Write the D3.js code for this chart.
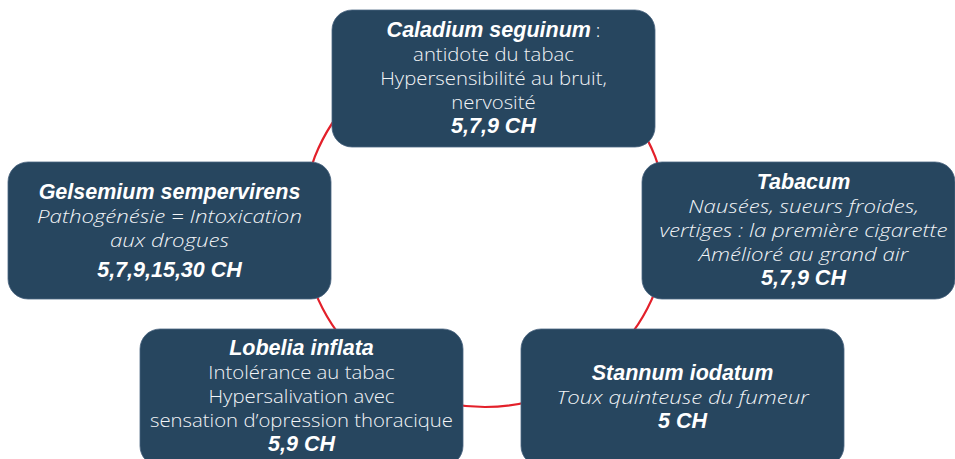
<!DOCTYPE html>
<html>
<head>
<meta charset="utf-8">
<script src="https://cdn.jsdelivr.net/npm/d3@7"></script>
<style>
  body { margin: 0; background: #fff; overflow: hidden; }
  .title { font-family: "Liberation Sans", Arial, sans-serif; font-weight: bold; font-style: italic; font-size: 21.5px; }
  .body  { font-family: "Open Sans", Roboto, sans-serif; font-weight: 300; font-size: 19px; }
</style>
</head>
<body>
<svg></svg>
<script>
// remedies around the circle
var remedies = ["Caladium seguinum", "Tabacum", "Stannum iodatum", "Lobelia inflata", "Gelsemium sempervirens"];
var suffix = [" :", "", "", "", ""];
var symptoms = [
  ["antidote du tabac", "Hypersensibilité au bruit,", "nervosité"],
  ["Nausées, sueurs froides,", "vertiges : la première cigarette", "Amélioré au grand air"],
  ["Toux quinteuse du fumeur"],
  ["Intolérance au tabac", "Hypersalivation avec", "sensation d\u2019opression thoracique"],
  ["Pathogénésie = Intoxication", "aux drogues"]
];
var italicBody = [false, true, true, false, true];
var dilutions = ["5,7,9 CH", "5,7,9 CH", "5 CH", "5,9 CH", "5,7,9,15,30 CH"];

// layout (box top-left corners + widths), kept apart from the data
var boxPos = [[332, 10], [642, 162], [521, 329], [140, 329], [8, 162]];
var boxWidths = [323, 313, 323, 323, 323];
var firstBaseline = [37, 189, 380, 355, 199];
var boxH = 137;
var textCx = 161.5;
var lineH = 24;
// the light face is narrower than the original one, so stretch it a bit
var stretchUp = 1.07, stretchIt = 1.17;

var screen = { width: 955, height: 459 };
var svg = d3.select('svg')
  .attr('width', screen.width)
  .attr('height', screen.height);

// the red ring
var ring = { cx: 485, cy: 224, r: 183 };
svg.append('circle')
  .attr('cx', ring.cx)
  .attr('cy', ring.cy)
  .attr('r', ring.r)
  .attr('fill', 'none')
  .attr('stroke', '#e3202a')
  .attr('stroke-width', 2.2);

var boxes = svg.selectAll('g.box')
  .data(remedies)
  .enter()
  .append('g')
  .classed('box', true)
  .attr('transform', function(d, i) { return 'translate(' + boxPos[i][0] + ',' + boxPos[i][1] + ')'; });

boxes.append('rect')
  .attr('width', function(d, i) { return boxWidths[i]; })
  .attr('height', boxH)
  .attr('rx', 20)
  .attr('ry', 20)
  .attr('fill', '#27465f')
  .attr('stroke', '#4a6580')
  .attr('stroke-width', 0.8);

boxes.each(function(d, i) {
  var g = d3.select(this);
  var y0 = firstBaseline[i] - boxPos[i][1];

  var t = g.append('text')
    .attr('x', textCx)
    .attr('y', y0)
    .attr('text-anchor', 'middle')
    .attr('fill', '#fff');
  t.append('tspan').classed('title', true).text(d);
  if (suffix[i]) t.append('tspan').classed('body', true).text(suffix[i]);

  symptoms[i].forEach(function(line, j) {
    var sx = italicBody[i] ? stretchIt : stretchUp;
    g.append('text')
      .classed('body', true)
      .attr('transform', 'translate(' + textCx + ',' + (y0 + (j + 1) * lineH) + ') scale(' + sx + ',1)')
      .attr('text-anchor', 'middle')
      .attr('fill', '#f2f4f7')
      .style('font-style', italicBody[i] ? 'italic' : 'normal')
      .text(line);
  });

  var extra = (i == 4) ? 6 : 0;
  g.append('text')
    .classed('title', true)
    .attr('x', textCx)
    .attr('y', y0 + (symptoms[i].length + 1) * lineH + extra)
    .attr('text-anchor', 'middle')
    .attr('fill', '#fff')
    .text(dilutions[i]);
});
</script>
</body>
</html>
